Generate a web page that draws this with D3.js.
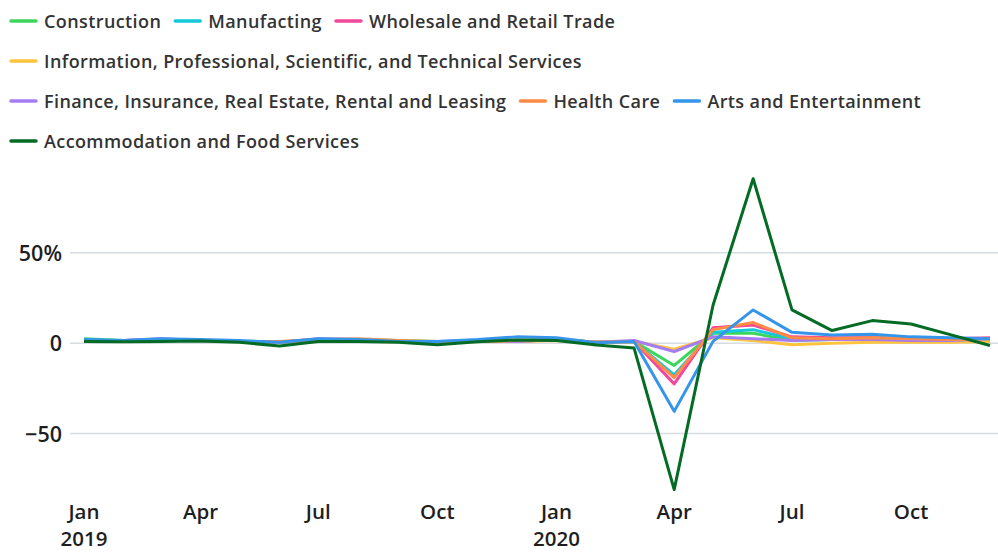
<!DOCTYPE html>
<html><head><meta charset="utf-8">
<script src="https://cdn.jsdelivr.net/npm/d3@7"></script>
<style>
html,body{margin:0;padding:0;background:#fff;}
svg{display:block;font-family:"Open Sans", Lato, sans-serif;}
</style></head>
<body><svg id="chart" width="998" height="552"></svg>
<script>
const months = ["2019-01","2019-02","2019-03","2019-04","2019-05","2019-06","2019-07","2019-08","2019-09","2019-10","2019-11","2019-12",
                "2020-01","2020-02","2020-03","2020-04","2020-05","2020-06","2020-07","2020-08","2020-09","2020-10","2020-11","2020-12"];
const seriesNames = ["Construction","Manufacting","Wholesale and Retail Trade","Information, Professional, Scientific, and Technical Services",
  "Finance, Insurance, Real Estate, Rental and Leasing","Health Care","Arts and Entertainment","Accommodation and Food Services"];
const seriesColors = ["#3dd65c","#14c8dc","#f2479a","#ffc43d","#a67cf3","#ff8b45","#3595ea","#046b25"];
const construction  = [2.5,1.5,2,1.5,1,0.5,2,2,1.5,1,1,1.5,2,0.5,1,-12.3,5.5,5.5,1.5,2,2.5,2,1.5,2];
const manufacturing = [2,1,2,1.5,1,0.5,1.5,2,1,0.5,1.5,1,2,0.5,1,-17.5,6,7.5,2.5,2.5,3,2,2,2];
const wholesale     = [1.5,1.5,2,1.5,1,0.5,2,2,1,0.5,1.5,1,2,0.5,1,-22.5,8.5,10,3.5,3,3,2.5,2.5,3];
const information   = [1.5,1,1.5,1.5,1,0.5,2,2,1,0.5,1,1,1.5,0.5,1,-3.3,3,1.5,-0.8,0,0.5,0.5,0.5,1];
const finance       = [1.5,1.5,2.5,1.5,1,0.5,2.5,2,1,1,1.5,1,2,0.5,1.5,-4.6,3.5,2.5,1.5,2,2,1.5,1.5,2.5];
const healthCare    = [1.5,1,1.5,1.5,1,1,2,2.5,1.5,1,1,1.5,2,0.5,1,-19,7.5,11.4,3,2.5,3,2.5,2,2.5];
const arts          = [2,1.5,2.5,2,1.5,0.5,2.5,2,1,1,2,3.5,3,0.3,1,-37.7,1,18.4,6,4.5,5,3.5,3,2.5];
const accommodation = [1,0.8,1,1.2,0.5,-1.5,1,1,0.5,-0.8,0.8,1.8,1.5,-1,-2.7,-81,21,91,18.4,7,12.5,10.6,4.6,-1.3];
const yTicks = [-50,0,50];
const yTickLabels = ["\u221250","0","50%"];
const xTickMonths = ["2019-01","2019-04","2019-07","2019-10","2020-01","2020-04","2020-07","2020-10"];
const xTickLabels = [["Jan","2019"],["Apr"],["Jul"],["Oct"],["Jan","2020"],["Apr"],["Jul"],["Oct"]];

const allValues = [construction,manufacturing,wholesale,information,finance,healthCare,arts,accommodation];
const parse = d3.timeParse("%Y-%m");
const dates = months.map(parse);

const svg = d3.select("#chart");
const x = d3.scaleTime().domain([dates[0], dates[dates.length-1]]).range([84, 990]);
const y = d3.scaleLinear().domain([-50,50]).range([433.6, 252.8]);

// grid
svg.append("g").selectAll("line").data(yTicks).join("line")
  .attr("x1",70).attr("x2",998)
  .attr("y1",d=>y(d)).attr("y2",d=>y(d))
  .attr("stroke","#d6dce2").attr("stroke-width",1.5);

// y labels
svg.append("g").selectAll("text").data(yTicks).join("text")
  .attr("x",62).attr("y",d=>y(d)+8)
  .attr("text-anchor","end")
  .attr("font-size",21.5).attr("font-weight",600).attr("fill","#1e1e1e")
  .text((d,i)=>yTickLabels[i]);

// x labels
const xg = svg.append("g");
xTickMonths.forEach((m,i)=>{
  xTickLabels[i].forEach((s,j)=>{
    xg.append("text").attr("text-anchor","middle")
      .attr("font-size",20.5).attr("font-weight",600).attr("fill","#1e1e1e")
      .attr("x",x(parse(m))).attr("y",519+j*27).text(s);
  });
});

// lines
const line = d3.line().x((d,i)=>x(dates[i])).y(d=>y(d));
svg.append("g").selectAll("path").data(allValues).join("path")
  .attr("d",d=>line(d))
  .attr("fill","none")
  .attr("stroke",(d,i)=>seriesColors[i])
  .attr("stroke-width",3)
  .attr("stroke-linejoin","round");

// legend (flow layout)
const lg = svg.append("g");
let lx = 11, ly = 21;
const maxW = 990;
seriesNames.forEach((name,i)=>{
  const g = lg.append("g");
  const txt = g.append("text").attr("x",33).attr("y",6.5)
    .attr("font-size",18).attr("font-weight",600).attr("letter-spacing",0.4)
    .attr("fill","#333").text(name);
  const w = 33 + txt.node().getComputedTextLength();
  if (lx > 11 && lx + w > maxW) { lx = 11; ly += 40; }
  g.attr("transform",`translate(${lx},${ly})`);
  g.append("line").attr("x1",0).attr("x2",25).attr("y1",0).attr("y2",0)
    .attr("stroke",seriesColors[i]).attr("stroke-width",3.5).attr("stroke-linecap","round");
  lx += w + 14;
});
</script></body></html>
